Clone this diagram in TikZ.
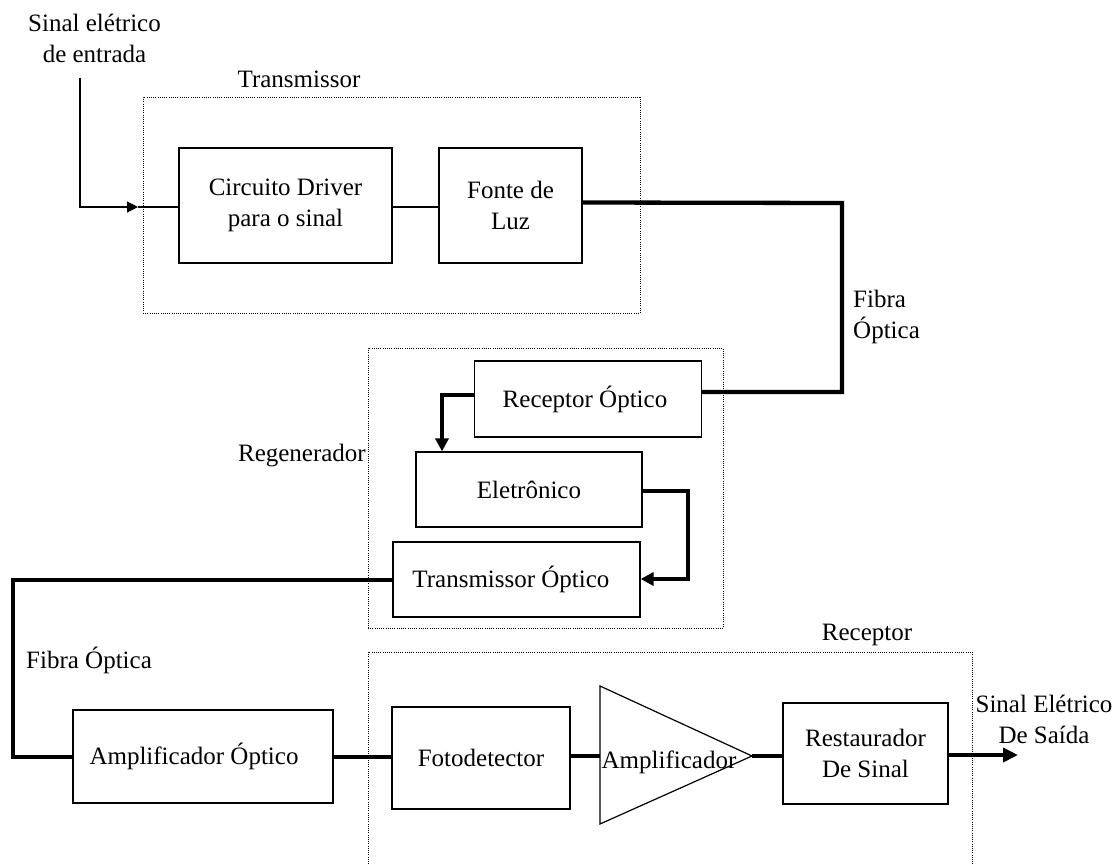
\documentclass[tikz,border=0pt]{standalone}
\usepackage{fontspec}
\setmainfont{Liberation Serif}
\usetikzlibrary{arrows.meta,calc}
\tikzset{
  blk/.style={draw, line width=1.2pt, inner sep=0pt, align=center, font=\fontsize{25}{31}\selectfont},
  lbl/.style={inner sep=0pt, font=\fontsize{25}{31}\selectfont},
  grp/.style={draw, line width=0.8pt, dash pattern=on 0.8pt off 1.4pt, inner sep=0pt},
  fiber/.style={line width=4.3pt},
  wire/.style={line width=1.2pt},
  tipS/.style={-{Triangle[length=11pt,width=11pt]}},
  tipL/.style={-{Triangle[length=13pt,width=13pt]}},
  tipO/.style={-{Triangle[length=15pt,width=14pt]}},
}
\begin{document}
\begin{tikzpicture}[x=1pt,y=-1pt]
\useasboundingbox (0,0) rectangle (1120,864);

% group frames
\node[grp, minimum width=497pt, minimum height=216pt] (gtx) at (391.5,205) {};
\node[grp, minimum width=355pt, minimum height=280pt] (greg) at (545.5,488) {};
\draw[line width=0.8pt, dash pattern=on 0.8pt off 1.4pt] (368,864) -- (368,652) -- (972,652) -- (972,864);

% blocks
\node[blk, minimum width=213pt, minimum height=115pt] (drv) at (285.5,205.5) {Circuito Driver\\para o sinal};
\node[blk, minimum width=143pt, minimum height=115pt] (luz) at (510.5,205.5) {Fonte de\\Luz};
\node[blk, minimum width=227pt, minimum height=76pt] (rxo) at (588,399) {\hspace*{-6pt}Receptor Óptico};
\node[blk, minimum width=226pt, minimum height=75pt] (ele) at (529,489.5) {Eletrônico};
\node[blk, minimum width=247pt, minimum height=75pt] (txo) at (516.5,579.5) {\hspace*{-11pt}Transmissor Óptico};
\node[blk, minimum width=260pt, minimum height=93pt] (ampo) at (203,756.5) {\hspace*{-18pt}Amplificador Óptico};
\node[blk, minimum width=178pt, minimum height=102pt] (foto) at (481,758) {Fotodetector};
\node[blk, minimum width=165pt, minimum height=101pt] (rest) at (865.5,753.5) {Restaurador\\De Sinal};

% amplifier triangle
\coordinate (ampT) at (600,686);
\coordinate (ampB) at (600,824);
\coordinate (ampin) at (600,756);
\coordinate (ampout) at (752,756);
\draw[wire, line join=miter] (ampT) -- (ampout) -- (ampB) -- cycle;
\node[lbl, anchor=base] (amp) at (669,768) {Amplificador};

% labels
\node[lbl, anchor=base] (lin) at (94.5,32) {\begin{tabular}[t]{@{}c@{}}Sinal elétrico\\de entrada\end{tabular}};
\node[lbl, anchor=base] (ltx) at (299,88) {Transmissor};
\node[lbl, anchor=base east] (lreg) at (366,461) {Regenerador};
\node[lbl, anchor=base west] (lfib1) at (853,307) {\begin{tabular}[t]{@{}l@{}}Fibra\\Óptica\end{tabular}};
\node[lbl, anchor=base west] (lfib2) at (26,668) {Fibra Óptica};
\node[lbl, anchor=base] (lrec) at (867,640) {Receptor};
\node[lbl, anchor=base] (lout) at (1044,712) {\begin{tabular}[t]{@{}c@{}}Sinal Elétrico\\De Saída\end{tabular}};

% input
\coordinate (inA) at (80,78);
\coordinate (inB) at (80,207);
\coordinate (inT) at (138,207);
\draw[wire, tipS] (inA) -- (inB) -- (inT);
\draw[wire] (inT) -- (inT -| drv.west);
\draw[wire] (drv.east |- inB) -- (luz.west |- inB);

% fiber to regenerator
\coordinate (f1a) at (842,203);
\coordinate (f1b) at (842,392);
\draw[fiber] ([yshift=3pt]luz.east) -- (f1a) -- (f1b) -- (f1b -| rxo.east);

% inside regenerator
\coordinate (re) at (442,395);
\draw[fiber, tipL] (re -| rxo.west) -- (re) -- (re |- ele.north);
\coordinate (et1) at (688,491);
\coordinate (et2) at (688,579);
\draw[fiber, tipL] (et1 -| ele.east) -- (et1) -- (et2) -- (et2 -| txo.east);

% fiber to receiver side
\coordinate (ta1) at (13,580);
\coordinate (ta2) at (13,757);
\draw[fiber] (ta1 -| txo.west) -- (ta1) -- (ta2) -- (ta2 -| ampo.west);
\draw[fiber] (ta2 -| ampo.east) -- (ta2 -| foto.west);
\draw[fiber] (foto.east |- ampin) -- (ampin);
\draw[fiber] (ampout) -- (ampout -| rest.west);
\coordinate (outT) at (1018,755);
\draw[fiber, tipO] (outT -| rest.east) -- (outT);
\end{tikzpicture}
\end{document}
